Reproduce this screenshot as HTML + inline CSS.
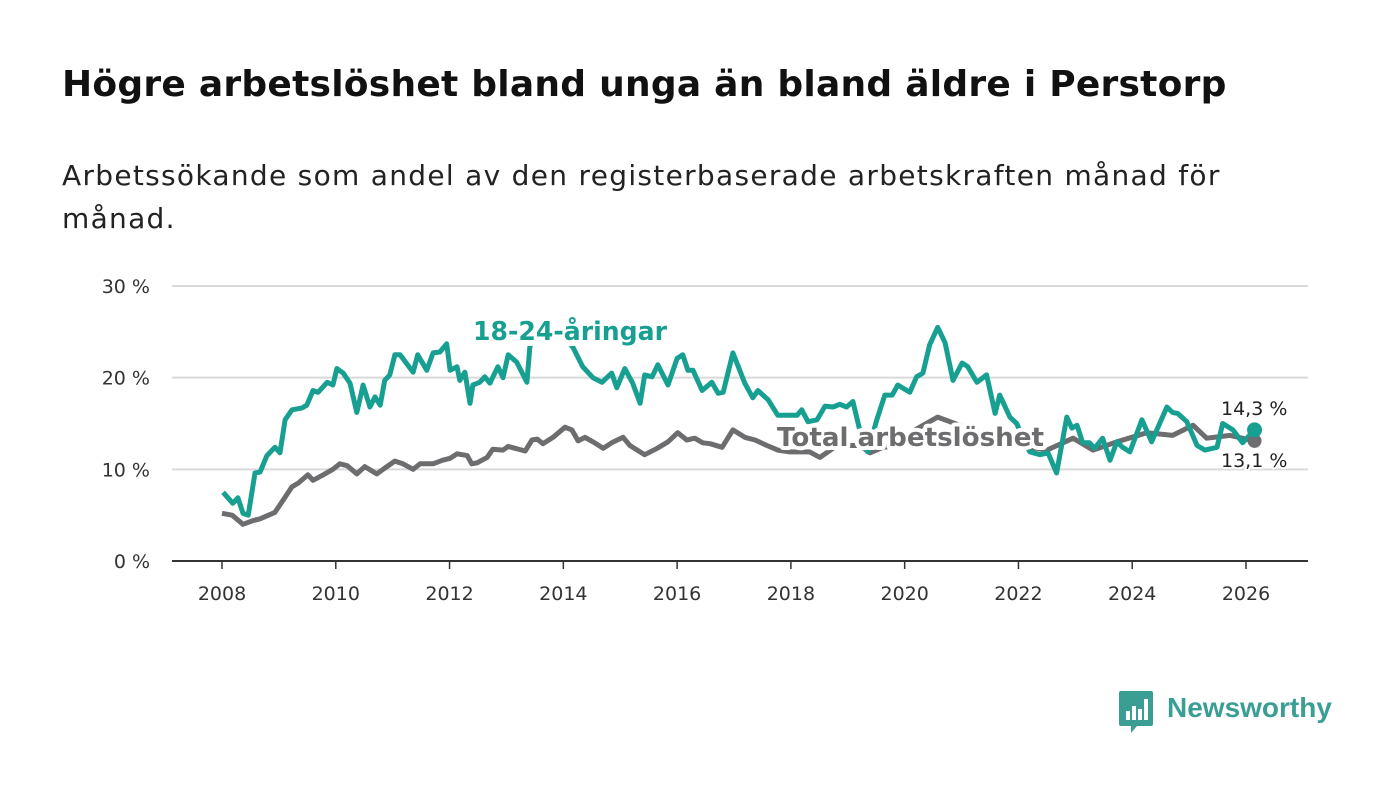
<!DOCTYPE html>
<html><head><meta charset="utf-8">
<style>
body{margin:0;background:#fff;width:1400px;height:794px;overflow:hidden;font-family:"DejaVu Sans",sans-serif;}
h1{position:absolute;left:62px;top:64px;margin:0;font-size:36px;letter-spacing:0.25px;font-weight:bold;color:#111;white-space:nowrap;font-family:"DejaVu Sans",sans-serif}
p.sub{position:absolute;left:62px;top:154px;margin:0;font-size:28px;letter-spacing:1.3px;line-height:43px;color:#222;width:1320px;font-family:"DejaVu Sans",sans-serif}
svg{position:absolute;left:0;top:0}
</style></head>
<body>
<h1>Högre arbetslöshet bland unga än bland äldre i Perstorp</h1>
<p class="sub">Arbetssökande som andel av den registerbaserade arbetskraften månad för<br>månad.</p>
<svg id="chart" width="1400" height="794"></svg>
<script>
const yTicks=[0,10,20,30];
const yTickLabels=["0 %","10 %","20 %","30 %"];
const xTicks=[2008,2010,2012,2014,2016,2018,2020,2022,2024,2026];
const youthYears=[2008.02,2008.19,2008.28,2008.37,2008.46,2008.58,2008.67,2008.79,2008.93,2009.02,2009.11,2009.23,2009.41,2009.49,2009.6,2009.69,2009.85,2009.95,2010.02,2010.13,2010.25,2010.37,2010.48,2010.6,2010.69,2010.78,2010.86,2010.95,2011.04,2011.13,2011.36,2011.44,2011.6,2011.71,2011.83,2011.95,2012.01,2012.13,2012.18,2012.27,2012.36,2012.41,2012.53,2012.62,2012.71,2012.85,2012.94,2013.03,2013.18,2013.36,2013.41,2013.52,2013.68,2013.94,2014.17,2014.34,2014.52,2014.68,2014.85,2014.94,2015.08,2015.22,2015.35,2015.43,2015.56,2015.66,2015.84,2016.0,2016.1,2016.19,2016.28,2016.44,2016.61,2016.72,2016.81,2016.98,2017.19,2017.33,2017.42,2017.6,2017.77,2018.11,2018.19,2018.3,2018.46,2018.6,2018.74,2018.86,2018.98,2019.09,2019.21,2019.35,2019.51,2019.65,2019.78,2019.88,2020.09,2020.21,2020.32,2020.44,2020.58,2020.71,2020.85,2021.01,2021.11,2021.27,2021.44,2021.59,2021.67,2021.85,2021.97,2022.09,2022.2,2022.38,2022.52,2022.67,2022.85,2022.94,2023.03,2023.13,2023.25,2023.34,2023.48,2023.61,2023.73,2023.83,2023.96,2024.17,2024.34,2024.61,2024.71,2024.8,2024.96,2025.14,2025.28,2025.49,2025.59,2025.77,2025.94,2026.15];
const youthValues=[7.5,6.3,6.9,5.2,5.0,9.6,9.7,11.5,12.4,11.8,15.4,16.5,16.7,17.0,18.6,18.4,19.5,19.2,21.0,20.5,19.4,16.2,19.2,16.8,17.9,17.0,19.7,20.3,22.5,22.5,20.6,22.5,20.8,22.7,22.8,23.7,20.8,21.2,19.7,20.6,17.2,19.2,19.5,20.1,19.4,21.2,20.0,22.5,21.7,19.5,23.3,25.5,25.8,24.8,23.3,21.2,20.0,19.5,20.5,18.9,21.0,19.4,17.2,20.3,20.1,21.4,19.2,22.1,22.5,20.8,20.8,18.6,19.5,18.3,18.4,22.7,19.4,17.8,18.6,17.6,15.9,15.9,16.5,15.2,15.4,16.9,16.8,17.1,16.8,17.4,14.3,11.9,15.4,18.1,18.1,19.2,18.4,20.1,20.5,23.6,25.5,23.8,19.7,21.6,21.2,19.5,20.3,16.1,18.1,15.7,15.0,13.2,11.9,11.6,11.8,9.6,15.7,14.5,14.8,12.9,12.9,12.3,13.4,11.0,13.0,12.4,11.9,15.4,13.0,16.8,16.2,16.1,15.2,12.6,12.1,12.4,15.0,14.3,12.9,14.3];
const totalYears=[2008.0,2008.18,2008.37,2008.54,2008.67,2008.93,2009.05,2009.23,2009.34,2009.51,2009.6,2009.78,2009.95,2010.07,2010.2,2010.37,2010.51,2010.72,2010.9,2011.04,2011.18,2011.36,2011.48,2011.71,2011.88,2012.01,2012.13,2012.31,2012.39,2012.48,2012.66,2012.76,2012.94,2013.03,2013.15,2013.33,2013.45,2013.54,2013.64,2013.82,2014.03,2014.15,2014.26,2014.38,2014.52,2014.7,2014.85,2015.05,2015.17,2015.43,2015.65,2015.84,2016.01,2016.17,2016.31,2016.45,2016.58,2016.79,2016.98,2017.19,2017.37,2017.58,2017.77,2017.98,2018.33,2018.51,2018.81,2019.21,2019.39,2019.62,2019.92,2020.18,2020.58,2020.97,2021.41,2021.85,2022.2,2022.5,2022.96,2023.31,2023.73,2024.26,2024.71,2025.07,2025.31,2025.72,2026.15];
const totalValues=[5.2,5.0,4.0,4.4,4.6,5.3,6.4,8.1,8.5,9.4,8.8,9.4,10.0,10.6,10.4,9.5,10.3,9.5,10.3,10.9,10.6,10.0,10.6,10.6,11.0,11.2,11.7,11.5,10.6,10.7,11.3,12.2,12.1,12.5,12.3,12.0,13.2,13.3,12.8,13.5,14.6,14.3,13.1,13.5,13.0,12.3,12.9,13.5,12.6,11.6,12.3,13.0,14.0,13.2,13.4,12.9,12.8,12.4,14.3,13.5,13.2,12.6,12.1,11.9,11.9,11.3,12.6,12.6,11.8,12.4,12.6,14.3,15.7,14.8,13.7,13.0,12.4,12.1,13.4,12.1,13.0,14.0,13.7,14.8,13.4,13.7,13.1];

const NS="http://www.w3.org/2000/svg";
const svg=document.getElementById('chart');
const X=y=>222+(y-2008)*(1246-222)/18;
const Y=v=>561-v*(561-286)/30;
const FF='DejaVu Sans, sans-serif';
function mk(tag,attrs,parent){const e=document.createElementNS(NS,tag);for(const k in attrs)e.setAttribute(k,attrs[k]);(parent||svg).appendChild(e);return e;}
const TEAL="#17a092",GRAY="#6d6c6e";
yTicks.forEach((t,i)=>{
  if(t>0){const g=mk('line',{x1:172,x2:1308,y1:Y(t),y2:Y(t),stroke:'#d9d9d9','stroke-width':2});
  
  }
  const l=mk('text',{x:150,y:Y(t)+7,'text-anchor':'end','font-size':19,fill:'#333','font-family':FF});
  l.textContent=yTickLabels[i];
  
  
});
xTicks.forEach(t=>{
  const tk=mk('line',{x1:X(t),x2:X(t),y1:561,y2:569,stroke:'#333','stroke-width':1.5});
  
  
  const l=mk('text',{x:X(t),y:600,'text-anchor':'middle','font-size':19,fill:'#333','font-family':FF});
  l.textContent=t;
  
  
});
const ax=mk('line',{x1:172,x2:1308,y1:561,y2:561,stroke:'#333','stroke-width':2});


function path(xs,vs){return xs.map((x,i)=>(i?'L':'M')+X(x).toFixed(1)+','+Y(vs[i]).toFixed(1)).join('');}
const tl=mk('path',{d:path(totalYears,totalValues),fill:'none',stroke:GRAY,'stroke-width':5,'stroke-linejoin':'round'});


const yl=mk('path',{d:path(youthYears,youthValues),fill:'none',stroke:TEAL,'stroke-width':5,'stroke-linejoin':'round'});


function label(txt,x,y,col,size,weight,name,len,sw){
  const t=mk('text',{x:x,y:y,'font-size':size,'font-weight':weight,fill:col,stroke:'#fff','stroke-width':sw,'paint-order':'stroke','stroke-linejoin':'round','font-family':FF});
  if(len){t.setAttribute('textLength',len);t.setAttribute('lengthAdjust','spacingAndGlyphs');}
  t.textContent=txt;
  
  
}
label('18-24-åringar',473,340,TEAL,26,'bold','youth-series-label',194,12);
label('Total arbetslöshet',777,446,GRAY,26,'bold','total-series-label',267,8);
const ty=totalYears[totalYears.length-1],tv=totalValues[totalValues.length-1];
const yy=youthYears[youthYears.length-1],yv=youthValues[youthValues.length-1];
const d1=mk('circle',{cx:X(ty),cy:Y(tv),r:7,fill:GRAY});


const d2=mk('circle',{cx:X(yy),cy:Y(yv),r:7.5,fill:TEAL});


label(String(yv).replace('.',',')+' %',1221,415,'#222',19,'normal','youth-end-value',0,4);
label(String(tv).replace('.',',')+' %',1221,467,'#222',19,'normal','total-end-value',0,4);
</script>
<div style="position:absolute;left:1119px;top:691px;">
<svg width="36" height="44" style="position:absolute;left:0;top:0">
<path d="M2 0H32Q34 0 34 2V33Q34 35 32 35H18L12 42V35H2Q0 35 0 33V2Q0 0 2 0Z" fill="#3a9e94"/>
<rect x="7" y="20" width="4" height="9" fill="#fff"/><rect x="13" y="15" width="4" height="14" fill="#fff"/><rect x="19" y="18" width="4" height="11" fill="#fff"/><rect x="25" y="8" width="4" height="21" fill="#fff"/>
</svg>
<span style="position:absolute;left:48px;top:1px;font-size:28px;font-weight:bold;color:#3a9e94;font-family:'Liberation Sans',sans-serif;white-space:nowrap">Newsworthy</span>
</div>
</body></html>
